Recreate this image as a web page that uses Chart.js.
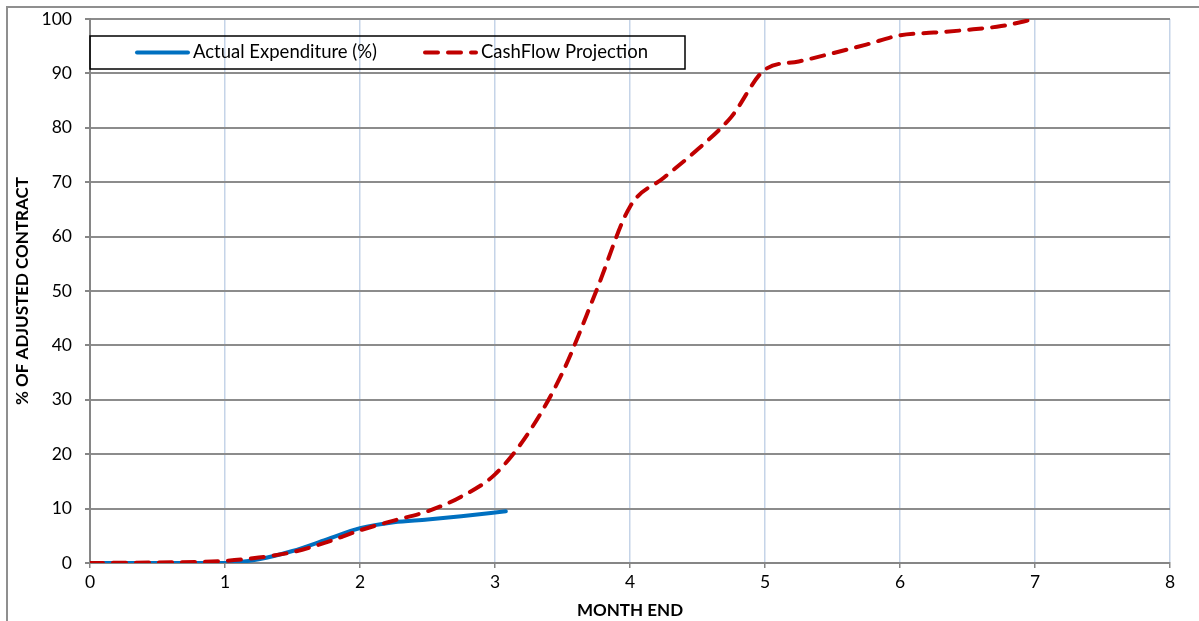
<!DOCTYPE html>
<html>
<head>
<meta charset="utf-8">
<script src="https://cdn.jsdelivr.net/npm/chart.js@4/dist/chart.umd.min.js"></script>
<style>
  body { margin: 0; background: #fff; }
  #wrap { width: 1199px; height: 621px; position: relative; }
</style>
</head>
<body>
<div id="wrap"><canvas id="cashflow" width="1199" height="621"></canvas></div>
<script>
// month-end positions and % of adjusted contract
const projMonths = [0, 0.5, 1, 1.25, 1.5, 1.75, 2, 2.25, 2.5, 2.75, 3, 3.25, 3.5, 3.75, 4, 4.25, 4.5, 4.75, 5, 5.25, 5.5, 5.75, 6, 6.25, 6.5, 6.75, 7];
const projection = [0, 0.1, 0.4, 1, 2, 3.8, 6, 7.8, 9.5, 12.2, 16.3, 24, 35, 50, 65.5, 70.8, 76, 82, 90.7, 92.2, 93.7, 95.3, 97.0, 97.5, 98.0, 98.7, 100];
const actualMonths = [0, 0.5, 1, 1.25, 1.5, 1.75, 2, 2.25, 2.5, 2.75, 3.08];
const actual = [0, 0, 0, 0.7, 2.2, 4.3, 6.4, 7.5, 8, 8.6, 9.5];
const seriesNames = ['Actual Expenditure (%)', 'CashFlow Projection'];
const xTitle = 'MONTH END';
const yTitle = '% OF ADJUSTED CONTRACT';

const FONT = 'Lato, Carlito, "Liberation Sans", sans-serif';
const BLUE = '#0070C0';
const RED = '#C00000';
const DASH = [13, 10];

function toPoints(xs, ys) {
  return xs.map(function(x, i) { return {x: x, y: ys[i]}; });
}

// outer frame + boxed legend drawn inside the plot
const frameAndLegend = {
  id: 'frameAndLegend',
  beforeDraw(chart) {
    const ctx = chart.ctx;
    ctx.save();
    ctx.strokeStyle = '#8f8f8f';
    ctx.lineWidth = 2;
    ctx.beginPath();
    ctx.moveTo(7, 621);
    ctx.lineTo(7, 7);
    ctx.lineTo(1199, 7);
    ctx.stroke();
    ctx.restore();
  },
  afterDraw(chart) {
    const ctx = chart.ctx;
    const a = chart.chartArea;
    const top = 36, h = 33, w = 595;
    const cy = top + h / 2;
    ctx.save();
    ctx.strokeStyle = '#000';
    ctx.lineWidth = 1.5;
    ctx.strokeRect(a.left, top, w, h);

    ctx.lineCap = 'round';
    ctx.lineWidth = 4;
    ctx.strokeStyle = BLUE;
    ctx.beginPath();
    ctx.moveTo(137, cy);
    ctx.lineTo(188, cy);
    ctx.stroke();

    ctx.strokeStyle = RED;
    ctx.setLineDash(DASH);
    ctx.beginPath();
    ctx.moveTo(425, cy);
    ctx.lineTo(476, cy);
    ctx.stroke();
    ctx.setLineDash([]);

    ctx.fillStyle = '#000';
    ctx.font = '18.5px ' + FONT;
    ctx.textBaseline = 'middle';
    ctx.fillText(seriesNames[0], 193, cy);
    ctx.fillText(seriesNames[1], 481, cy);
    ctx.restore();
  }
};

new Chart(document.getElementById('cashflow'), {
  type: 'line',
  data: {
    datasets: [{
      label: seriesNames[0],
      data: toPoints(actualMonths, actual),
      borderColor: BLUE,
      borderWidth: 4,
      borderCapStyle: 'round',
      pointRadius: 0,
      cubicInterpolationMode: 'monotone',
      order: 2
    }, {
      label: seriesNames[1],
      data: toPoints(projMonths, projection),
      borderColor: RED,
      borderWidth: 4,
      borderDash: DASH,
      borderCapStyle: 'round',
      pointRadius: 0,
      cubicInterpolationMode: 'monotone',
      order: 1
    }]
  },
  options: {
    responsive: false,
    animation: false,
    layout: { padding: { left: 0, top: 19, right: 29, bottom: 0 } },
    plugins: { legend: { display: false }, tooltip: { enabled: false } },
    scales: {
      x: {
        type: 'linear',
        min: 0, max: 8,
        afterFit: function(s) { s.height = 58; s.paddingLeft = 0; s.paddingRight = 0; },
        ticks: { stepSize: 1, color: '#000', padding: 4, font: { family: FONT, size: 17.5 } },
        grid: { color: '#c5d4e8', lineWidth: 1.5, tickColor: '#868686', tickLength: 5 },
        border: { color: '#868686', width: 2 },
        title: { display: true, text: xTitle, color: '#000', padding: { top: 2, bottom: 0 },
                 font: { family: FONT, size: 17, weight: 'bold' } }
      },
      y: {
        min: 0, max: 100,
        afterFit: function(s) { s.width = 90; s.paddingTop = 0; s.paddingBottom = 0; },
        ticks: { stepSize: 10, color: '#000', padding: 13, font: { family: FONT, size: 17.5 } },
        grid: { color: '#8c8c8c', lineWidth: 2, tickColor: '#868686', tickLength: 5 },
        border: { color: '#868686', width: 2 },
        title: { display: true, text: yTitle, color: '#000', padding: { top: 12, bottom: 0 },
                 font: { family: FONT, size: 17, weight: 'bold' } }
      }
    }
  },
  plugins: [frameAndLegend]
});
</script>
</body>
</html>
